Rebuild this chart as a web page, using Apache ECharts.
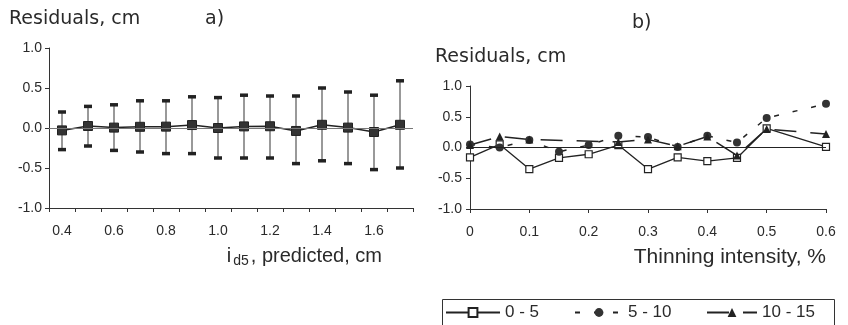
<!DOCTYPE html>
<html><head><meta charset="utf-8">
<script src="https://cdn.jsdelivr.net/npm/echarts@6/dist/echarts.min.js"></script>
<style>html,body{margin:0;padding:0;background:#fff}#c{width:848px;height:325px}</style>
</head><body><div id="c"></div>
<script>
// ---- Panel a) data ----
const predCats = ['0.4','0.5','0.6','0.7','0.8','0.9','1.0','1.1','1.2','1.3','1.4','1.5','1.6','1.7'];
const predMean = [-0.03, 0.025, 0.005, 0.015, 0.017, 0.037, 0.0, 0.02, 0.022, -0.037, 0.04, 0.005, -0.05, 0.04];
const predUpper = [0.20, 0.27, 0.29, 0.34, 0.34, 0.39, 0.38, 0.41, 0.40, 0.40, 0.50, 0.45, 0.41, 0.59];
const predLower = [-0.27, -0.225, -0.28, -0.30, -0.32, -0.32, -0.375, -0.375, -0.375, -0.445, -0.41, -0.445, -0.52, -0.50];
// ---- Panel b) data ----
const thinX = [0, 0.05, 0.1, 0.15, 0.2, 0.25, 0.3, 0.35, 0.4, 0.45, 0.5, 0.6];
const res0_5 = [-0.16, 0.05, -0.35, -0.17, -0.11, 0.04, -0.35, -0.16, -0.22, -0.17, 0.31, 0.01];
const res5_10 = [0.05, 0.0, 0.12, -0.07, 0.04, 0.19, 0.17, 0.01, 0.19, 0.08, 0.48, 0.71];
const res10_15 = [0.04, 0.18, 0.13, null, null, 0.09, 0.13, 0.02, 0.18, -0.13, 0.30, 0.22];
const seriesNames = ['0 - 5', '5 - 10', '10 - 15'];

const FONT = 'Liberation Sans';
const TXT = '#2a2a2a';
const AX = '#333';
const TFONT = {fontFamily: 'DejaVu Sans', fontSize: 19, fontWeight: 'normal', color: TXT};
const LFONT = {fontFamily: FONT, fontSize: 17, color: TXT};

function yAxisCfg(gi, margin) {
  return {
    type: 'value', gridIndex: gi, min: -1, max: 1, interval: 0.5,
    splitLine: {show: false},
    axisLine: {show: true, lineStyle: {color: AX, width: 1}},
    axisTick: {show: true, length: 4, lineStyle: {color: AX}},
    axisLabel: {margin: margin, fontFamily: FONT, fontSize: 14, color: TXT, formatter: v => v.toFixed(1)}
  };
}

const chart = echarts.init(document.getElementById('c'), null, {renderer: 'canvas'});
chart.setOption({
  animation: false,
  backgroundColor: '#fff',
  title: [
    {text: 'Residuals, cm', left: 9, top: 10, padding: 0, textStyle: TFONT},
    {text: 'a)', left: 205, top: 10, padding: 0, textStyle: TFONT},
    {text: 'b)', left: 632, top: 14, padding: 0, textStyle: TFONT},
    {text: 'Residuals, cm', left: 435, top: 48, padding: 0, textStyle: TFONT}
  ],
  grid: [
    {left: 49, top: 48, width: 364, height: 160, containLabel: false, outerBoundsMode: 'none'},
    {left: 470, top: 86, width: 356, height: 123, containLabel: false, outerBoundsMode: 'none'}
  ],
  xAxis: [
    {
      type: 'category', gridIndex: 0, data: predCats, boundaryGap: true,
      axisLine: {onZero: false, lineStyle: {color: AX, width: 1}},
      axisTick: {show: true, interval: 0, length: 4, lineStyle: {color: AX}},
      axisLabel: {interval: 1, margin: 16, fontFamily: FONT, fontSize: 14, color: TXT},
      name: '{m|i}{s|d5}{m|, predicted, cm}',
      nameLocation: 'end', nameGap: -31, nameMoveOverlap: false,
      nameTextStyle: {
        align: 'right', verticalAlign: 'top', padding: [36, 0, 0, 0],
        rich: {
          m: {fontFamily: FONT, fontSize: 20, color: TXT, lineHeight: 24},
          s: {fontFamily: FONT, fontSize: 14, color: TXT, lineHeight: 24, verticalAlign: 'bottom', padding: [0, 2, 0, 2]}
        }
      }
    },
    {
      type: 'value', gridIndex: 1, min: 0, max: 0.6, interval: 0.1,
      splitLine: {show: false},
      axisLine: {onZero: false, lineStyle: {color: AX, width: 1}},
      axisTick: {show: true, length: 4, lineStyle: {color: AX}},
      axisLabel: {margin: 16, fontFamily: FONT, fontSize: 14, color: TXT, formatter: v => v === 0 ? '0' : v.toFixed(1)},
      name: '{m|Thinning intensity, %}',
      nameLocation: 'end', nameGap: 0, nameMoveOverlap: false,
      nameTextStyle: {
        align: 'right', verticalAlign: 'top', padding: [36, 0, 0, 0],
        rich: {m: {fontFamily: FONT, fontSize: 21, color: TXT, lineHeight: 24}}
      }
    }
  ],
  yAxis: [yAxisCfg(0, 7), yAxisCfg(1, 8)],
  legend: [
    {data: [seriesNames[0]], left: 445, top: 304, padding: 0, itemWidth: 54, itemHeight: 11, textStyle: LFONT},
    {data: [seriesNames[1]], left: 574, top: 304, padding: 0, itemWidth: 48, itemHeight: 11, textStyle: LFONT},
    {data: [seriesNames[2]], left: 706, top: 304, padding: 0, itemWidth: 50, itemHeight: 11, textStyle: LFONT}
  ],
  graphic: [
    {type: 'rect', left: 440, top: 297, silent: true, shape: {width: 392, height: 40}, style: {fill: 'none', stroke: '#333', lineWidth: 1}}
  ],
  series: [
    {
      type: 'custom', xAxisIndex: 0, yAxisIndex: 0, silent: true,
      data: predCats.map((c, i) => [i, predLower[i], predUpper[i]]),
      encode: {x: 0, y: [1, 2]},
      renderItem: function (params, api) {
        const x = api.coord([api.value(0), 0])[0];
        const lo = api.coord([api.value(0), api.value(1)])[1];
        const hi = api.coord([api.value(0), api.value(2)])[1];
        const cw = 8, ch = 3.5;
        return {type: 'group', children: [
          {type: 'line', shape: {x1: x, y1: lo, x2: x, y2: hi}, style: {stroke: '#555', lineWidth: 1.2}},
          {type: 'rect', shape: {x: x - cw / 2, y: hi - ch / 2, width: cw, height: ch}, style: {fill: '#222'}},
          {type: 'rect', shape: {x: x - cw / 2, y: lo - ch / 2, width: cw, height: ch}, style: {fill: '#222'}}
        ]};
      }
    },
    {
      type: 'line', xAxisIndex: 0, yAxisIndex: 0, data: predMean,
      symbol: 'rect', symbolSize: 9,
      itemStyle: {color: '#333', borderColor: '#222', borderWidth: 1},
      lineStyle: {color: '#222', width: 1.5},
      markLine: {silent: true, symbol: 'none', label: {show: false}, lineStyle: {color: '#777', width: 1, type: 'solid'}, data: [{yAxis: 0}]}
    },
    {
      name: seriesNames[0], type: 'line', xAxisIndex: 1, yAxisIndex: 1,
      data: thinX.map((x, i) => [x, res0_5[i]]),
      symbol: 'rect', symbolSize: 7,
      itemStyle: {color: '#fff', borderColor: '#222', borderWidth: 1.2},
      lineStyle: {color: '#222', width: 1.3},
      markLine: {silent: true, symbol: 'none', label: {show: false}, lineStyle: {color: '#222', width: 1, type: 'solid'}, data: [{yAxis: 0}]}
    },
    {
      name: seriesNames[1], type: 'line', xAxisIndex: 1, yAxisIndex: 1,
      data: thinX.map((x, i) => [x, res5_10[i]]),
      symbol: 'circle', symbolSize: 8,
      itemStyle: {color: '#333'},
      lineStyle: {color: '#222', width: 1.5, type: [5, 14]}
    },
    {
      name: seriesNames[2], type: 'line', xAxisIndex: 1, yAxisIndex: 1, connectNulls: true,
      data: thinX.map((x, i) => [x, res10_15[i]]),
      symbol: 'triangle', symbolSize: 8,
      itemStyle: {color: '#222'},
      lineStyle: {color: '#222', width: 1.5, type: [22, 14]}
    }
  ]
});
</script></body></html>
